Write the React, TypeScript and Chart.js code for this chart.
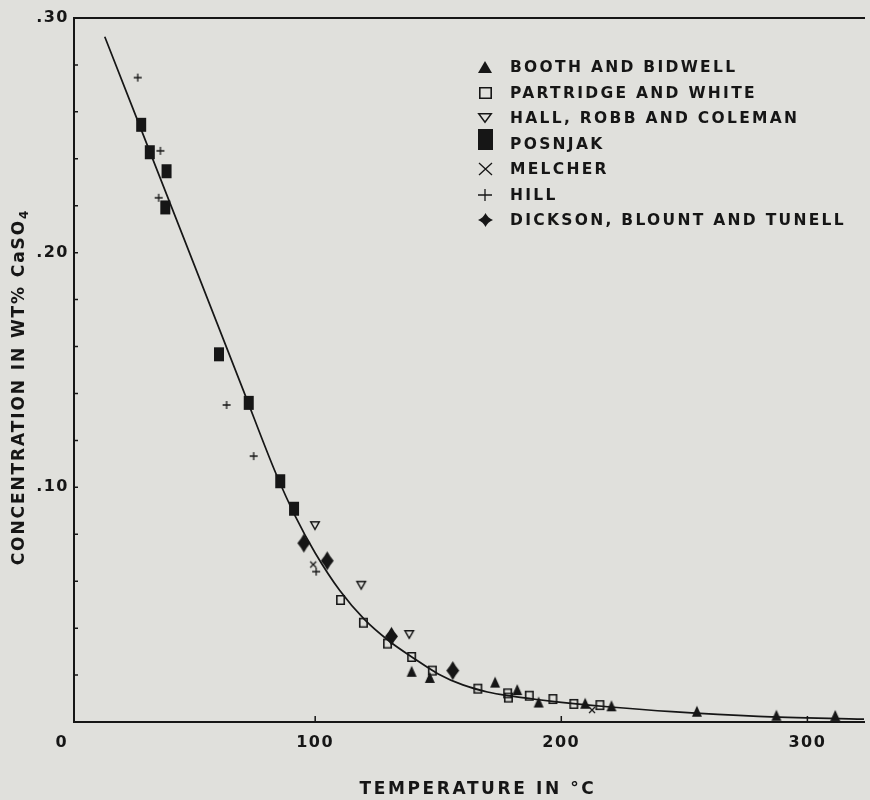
import React, { useEffect, useRef } from 'react';
import { Chart, registerables } from 'chart.js';

Chart.register(...registerables);

type Pt = { x: number; y: number };

// Solubility of anhydrite: temperature (°C) against concentration (wt % CaSO4)
const BOOTH_BIDWELL: Pt[] = [
  { x: 139.2, y: 0.0216 }, { x: 146.6, y: 0.019 }, { x: 173.1, y: 0.017 },
  { x: 182.1, y: 0.0138 }, { x: 190.8, y: 0.0085 }, { x: 209.7, y: 0.008 },
  { x: 220.4, y: 0.0069 }, { x: 255.1, y: 0.0046 }, { x: 287.4, y: 0.0029 },
  { x: 311.3, y: 0.0028 },
];

const PARTRIDGE_WHITE: Pt[] = [
  { x: 110.3, y: 0.052 }, { x: 119.6, y: 0.0423 }, { x: 129.4, y: 0.0334 },
  { x: 139.2, y: 0.0277 }, { x: 147.6, y: 0.0219 }, { x: 166.1, y: 0.0142 },
  { x: 178.2, y: 0.0122 }, { x: 178.5, y: 0.0104 }, { x: 187.0, y: 0.0112 },
  { x: 196.6, y: 0.0098 }, { x: 205.1, y: 0.0077 }, { x: 215.7, y: 0.0072 },
];

const HALL_ROBB_COLEMAN: Pt[] = [
  { x: 99.9, y: 0.0837 }, { x: 118.7, y: 0.0583 }, { x: 138.2, y: 0.0373 },
];

const POSNJAK: Pt[] = [
  { x: 29.3, y: 0.2545 }, { x: 32.8, y: 0.2428 }, { x: 39.6, y: 0.2347 },
  { x: 39.1, y: 0.2193 }, { x: 60.9, y: 0.1567 }, { x: 73.0, y: 0.136 },
  { x: 85.8, y: 0.1026 }, { x: 91.4, y: 0.0909 },
];

const MELCHER: Pt[] = [
  { x: 99.2, y: 0.0671 }, { x: 212.5, y: 0.0051 },
];

const HILL: Pt[] = [
  { x: 27.9, y: 0.2746 }, { x: 37.1, y: 0.2434 }, { x: 36.4, y: 0.2234 },
  { x: 64.0, y: 0.1351 }, { x: 75.0, y: 0.1133 }, { x: 100.4, y: 0.0641 },
];

const DICKSON_BLOUNT_TUNELL: Pt[] = [
  { x: 95.4, y: 0.0762 }, { x: 104.9, y: 0.0687 }, { x: 131.0, y: 0.0365 },
  { x: 155.9, y: 0.0219 },
];

// Smoothed solubility curve through the measurements
const SOLUBILITY_CURVE: Pt[] = [
  { x: 14.5, y: 0.292 }, { x: 46.0, y: 0.2078 }, { x: 71.0, y: 0.1408 },
  { x: 84.0, y: 0.106 }, { x: 92.0, y: 0.0875 }, { x: 100.0, y: 0.072 },
  { x: 110.0, y: 0.056 }, { x: 120.0, y: 0.0437 }, { x: 130.0, y: 0.0345 },
  { x: 140.0, y: 0.0272 }, { x: 150.0, y: 0.0205 }, { x: 160.0, y: 0.0158 },
  { x: 170.0, y: 0.0128 }, { x: 180.0, y: 0.011 }, { x: 190.0, y: 0.0096 },
  { x: 200.0, y: 0.0084 }, { x: 220.0, y: 0.0064 }, { x: 245.0, y: 0.0044 },
  { x: 280.0, y: 0.0024 }, { x: 323.0, y: 0.0012 },
];

const X_TICKS = [100, 200, 300];
const Y_LABELED = [0.1, 0.2, 0.3];
const Y_MINOR_COUNT = 15; // tick every 0.02
const X_RANGE = [2, 323];
const Y_RANGE = [0, 0.3];

const X_TITLE = 'TEMPERATURE IN °C';
const Y_TITLE = 'CONCENTRATION IN WT% CaSO';
const Y_TITLE_SUB = '4';

const INK = '#161616';
const PAPER = '#e0e0dc';
const FONT = '"DejaVu Sans", "Liberation Sans", sans-serif';

type Shape = 'triangle' | 'square' | 'triangleDown' | 'block' | 'cross' | 'plus' | 'star';

function markerCanvas(shape: Shape, w: number, h: number, lw = 1.5, pinch = 0.5): HTMLCanvasElement {
  const pad = Math.ceil(lw) + 1;
  const c = document.createElement('canvas');
  c.width = w + pad * 2;
  c.height = h + pad * 2;
  const g = c.getContext('2d') as CanvasRenderingContext2D;
  g.translate(pad, pad);
  g.fillStyle = INK;
  g.strokeStyle = INK;
  g.lineWidth = lw;
  g.beginPath();
  switch (shape) {
    case 'triangle':
      g.moveTo(w / 2, 0); g.lineTo(w, h); g.lineTo(0, h); g.closePath(); g.fill();
      break;
    case 'square':
      g.rect(lw / 2, lw / 2, w - lw, h - lw); g.stroke();
      break;
    case 'triangleDown':
      g.moveTo(lw / 2, lw / 2); g.lineTo(w - lw / 2, lw / 2); g.lineTo(w / 2, h - lw / 2); g.closePath(); g.stroke();
      break;
    case 'block':
      g.rect(0, 0, w, h); g.fill();
      break;
    case 'cross':
      g.moveTo(0, 0); g.lineTo(w, h); g.moveTo(w, 0); g.lineTo(0, h); g.stroke();
      break;
    case 'plus':
      g.moveTo(w / 2, 0); g.lineTo(w / 2, h); g.moveTo(0, h / 2); g.lineTo(w, h / 2); g.stroke();
      break;
    case 'star': {
      const cx = w / 2, cy = h / 2;
      const k = pinch;
      g.moveTo(cx, 0);
      g.quadraticCurveTo(cx + k * cx, cy - k * cy, w, cy);
      g.quadraticCurveTo(cx + k * cx, cy + k * cy, cx, h);
      g.quadraticCurveTo(cx - k * cx, cy + k * cy, 0, cy);
      g.quadraticCurveTo(cx - k * cx, cy - k * cy, cx, 0);
      g.closePath();
      g.fill();
      break;
    }
  }
  return c;
}

export default function App() {
  const ref = useRef<HTMLCanvasElement>(null);

  useEffect(() => {
    const canvas = ref.current;
    if (!canvas) return;

    const series = [
      { label: 'BOOTH AND BIDWELL', data: BOOTH_BIDWELL,
        point: markerCanvas('triangle', 10, 11), key: markerCanvas('triangle', 14, 12) },
      { label: 'PARTRIDGE AND WHITE', data: PARTRIDGE_WHITE,
        point: markerCanvas('square', 9, 10, 1.6), key: markerCanvas('square', 13, 12, 1.6) },
      { label: 'HALL, ROBB AND COLEMAN', data: HALL_ROBB_COLEMAN,
        point: markerCanvas('triangleDown', 10, 9, 1.5), key: markerCanvas('triangleDown', 14, 10, 1.5) },
      { label: 'POSNJAK', data: POSNJAK,
        point: markerCanvas('block', 10, 14), key: markerCanvas('block', 15, 21) },
      { label: 'MELCHER', data: MELCHER,
        point: markerCanvas('cross', 6, 6, 1.3), key: markerCanvas('cross', 13, 12, 1.3) },
      { label: 'HILL', data: HILL,
        point: markerCanvas('plus', 8, 8, 1.3), key: markerCanvas('plus', 14, 12, 1.3) },
      { label: 'DICKSON, BLOUNT AND TUNELL', data: DICKSON_BLOUNT_TUNELL,
        point: markerCanvas('star', 13, 19, 1, 0.44), key: markerCanvas('star', 15, 14, 1, 0.3) },
    ];

    const overlay = {
      id: 'plateOverlay',
      beforeDraw(chart: any) {
        chart.ctx.letterSpacing = '1.5px';
      },
      afterDraw(chart: any) {
        const { ctx, chartArea: a, scales } = chart;
        const xs = scales.x;
        const ys = scales.y;
        ctx.save();

        // inward tick marks
        ctx.strokeStyle = INK;
        ctx.lineWidth = 1.5;
        ctx.beginPath();
        for (let i = 1; i < Y_MINOR_COUNT; i++) {
          const py = ys.getPixelForValue((i * (Y_RANGE[1] - Y_RANGE[0])) / Y_MINOR_COUNT);
          ctx.moveTo(a.left, py);
          ctx.lineTo(a.left + 4, py);
        }
        for (const v of X_TICKS) {
          const px = xs.getPixelForValue(v);
          ctx.moveTo(px, a.bottom);
          ctx.lineTo(px, a.bottom - 6);
        }
        ctx.stroke();

        ctx.fillStyle = INK;
        ctx.textBaseline = 'middle';

        // origin label
        ctx.letterSpacing = '0px';
        ctx.font = `bold 16px ${FONT}`;
        ctx.textAlign = 'center';
        ctx.fillText('0', a.left - 13, a.bottom + 21);

        // x title
        ctx.letterSpacing = '2.6px';
        ctx.font = `bold 17px ${FONT}`;
        ctx.textAlign = 'center';
        ctx.fillText(X_TITLE, a.left + 404, a.bottom + 68);

        // y title, rotated, with subscript
        ctx.save();
        ctx.translate(20, a.top + 369);
        ctx.rotate(-Math.PI / 2);
        ctx.letterSpacing = '1.9px';
        ctx.font = `bold 17px ${FONT}`;
        const mainW = ctx.measureText(Y_TITLE).width;
        ctx.font = `bold 12px ${FONT}`;
        const subW = ctx.measureText(Y_TITLE_SUB).width;
        const start = -(mainW + subW) / 2;
        ctx.textAlign = 'left';
        ctx.font = `bold 17px ${FONT}`;
        ctx.fillText(Y_TITLE, start, 0);
        ctx.font = `bold 12px ${FONT}`;
        ctx.fillText(Y_TITLE_SUB, start + mainW, 5);
        ctx.restore();

        // key
        ctx.letterSpacing = '2.3px';
        ctx.font = `bold 15.5px ${FONT}`;
        ctx.textAlign = 'left';
        series.forEach((s, i) => {
          const y = a.top + 49 + i * 25.5;
          const img = s.key;
          const cy = s.label === 'POSNJAK' ? y - 4 : y;
          ctx.drawImage(img, Math.round(a.left + 411 - img.width / 2), Math.round(cy - img.height / 2));
          ctx.fillText(s.label, a.left + 436, y + 1);
        });

        ctx.restore();
      },
    };

    const datasets: any[] = series.map((s) => ({
      label: s.label,
      data: s.data,
      pointStyle: s.point,
      pointRadius: 5,
      pointHoverRadius: 5,
      showLine: false,
      order: 0,
    }));
    datasets.push({
      label: 'curve',
      data: SOLUBILITY_CURVE,
      showLine: true,
      borderColor: INK,
      borderWidth: 1.7,
      pointRadius: 0,
      pointHoverRadius: 0,
      cubicInterpolationMode: 'monotone',
      fill: false,
      order: 1,
    });

    const tickFont = { family: FONT, size: 16, weight: 'bold' as const };

    const chart = new Chart(canvas, {
      type: 'scatter',
      data: { datasets },
      options: {
        animation: false,
        responsive: false,
        devicePixelRatio: 1,
        events: [],
        layout: { padding: { top: 18, right: 0, bottom: 0, left: 0 } },
        plugins: {
          legend: { display: false },
          tooltip: { enabled: false },
        },
        scales: {
          x: {
            type: 'linear',
            position: 'bottom',
            min: X_RANGE[0],
            max: X_RANGE[1],
            grid: { display: false, drawTicks: false, tickLength: 0 },
            border: { display: true, width: 2, color: INK },
            afterBuildTicks: (scale: any) => {
              scale.ticks = X_TICKS.map((v) => ({ value: v }));
            },
            ticks: {
              color: INK,
              font: tickFont,
              padding: 11,
              maxRotation: 0,
              autoSkip: false,
              callback: (v: any) => String(v),
            },
            afterFit: (scale: any) => {
              scale.height = 78;
            },
          },
          x2: {
            type: 'linear',
            position: 'top',
            min: X_RANGE[0],
            max: X_RANGE[1],
            grid: { display: false, drawTicks: false, tickLength: 0 },
            border: { display: true, width: 2, color: INK },
            ticks: { display: false },
            afterFit: (scale: any) => {
              scale.height = 0;
            },
          },
          y: {
            type: 'linear',
            position: 'left',
            min: Y_RANGE[0],
            max: Y_RANGE[1],
            grid: { display: false, drawTicks: false, tickLength: 0 },
            border: { display: true, width: 2, color: INK },
            afterBuildTicks: (scale: any) => {
              scale.ticks = Y_LABELED.map((v) => ({ value: v }));
            },
            ticks: {
              color: INK,
              font: tickFont,
              padding: 5,
              autoSkip: false,
              callback: (v: any) => '.' + String(Math.round(Number(v) * 100)).padStart(2, '0'),
            },
            afterFit: (scale: any) => {
              scale.width = 74;
            },
          },
        },
      },
      plugins: [overlay],
    } as any);

    return () => chart.destroy();
  }, []);

  return (
    <div
      style={{
        position: 'absolute',
        left: 0,
        top: 0,
        width: 870,
        height: 800,
        background: PAPER,
        overflow: 'hidden',
      }}
    >
      <canvas ref={ref} width={870} height={800} style={{ display: 'block', width: 870, height: 800 }} />
    </div>
  );
}
